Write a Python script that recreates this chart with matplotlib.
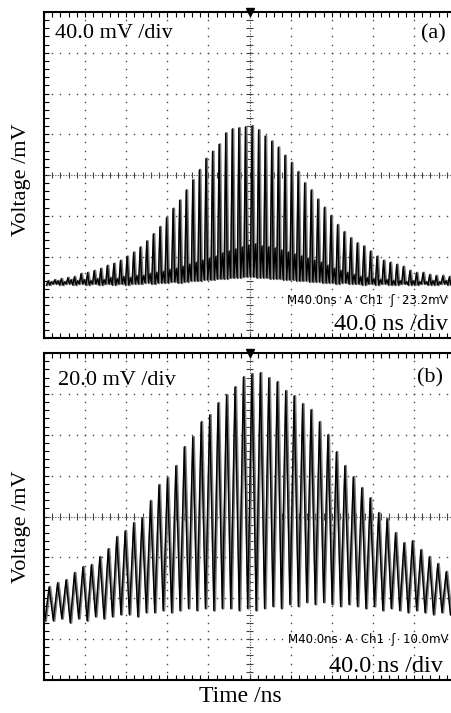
import matplotlib

matplotlib.use("Agg")

import matplotlib.pyplot as plt
import numpy as np

W, H = 451, 713

# panel (a): 40 mV/div, peak heights of each pulse (mV)
a_tall_mv = [
    -104, -103, -102, -101, -100, -97, -96, -94, -92, -89,
    -87, -84, -80, -76, -71, -65, -58, -51, -42, -33,
    -25, -15, -5, 5, 16, 23, 30, 41, 45, 46,
    47, 48, 44, 38, 33, 27, 19, 12, 3, -8,
    -15, -24, -32, -40, -49, -56, -62, -67, -70, -75,
    -80, -84, -86, -88, -90, -94, -96, -96, -98, -99,
    -99, -100,
]
a_small_mv = [
    -105, -104, -105, -103, -104, -103, -104, -102, -103, -101,
    -102, -100, -101, -99, -99, -97, -96, -95, -93, -92,
    -90, -88, -86, -84, -82, -80, -77, -75, -73, -71,
    -69, -68, -70, -71, -72, -74, -76, -78, -80, -82,
    -84, -86, -89, -92, -94, -96, -98, -100, -101, -102,
    -103, -103, -104, -104, -105, -104, -105, -105, -104, -105,
    -104, -105,
]
a_valley_mv = [
    -108, -107, -108, -107, -108, -107, -108, -107, -108, -107,
    -108, -107, -108, -107, -107, -106, -107, -106, -106, -105,
    -106, -105, -104, -104, -103, -103, -102, -102, -101, -101,
    -100, -100, -101, -101, -102, -102, -103, -103, -104, -104,
    -105, -105, -106, -106, -107, -106, -107, -107, -108, -107,
    -108, -107, -108, -108, -107, -108, -108, -107, -108, -108,
    -107, -108,
]
a_first_ns = -196.0
a_period_ns = 6.4

# panel (b): 20 mV/div
b_peak_mv = [
    -34.5, -32.5, -31.1, -27.6, -24.7, -23.7, -19.8, -15.9, -10.0, -7.1,
    -3.2, -0.7, 7.6, 15.4, 18.8, 24.7, 34.0, 38.9, 46.2, 49.6,
    55.5, 59.4, 63.3, 68.2, 69.7, 70.2, 67.7, 65.8, 61.4, 58.9,
    55.0, 52.1, 46.2, 39.9, 31.5, 24.7, 19.3, 13.9, 9.0, 1.7,
    -1.2, -8.1, -13.0, -12.0, -16.4, -19.8, -23.2, -27.1,
]
b_valley_mv = [
    -51, -50, -52, -50, -51, -49, -50, -49, -48, -48, -49, -47,
    -47, -46, -47, -46, -45, -46, -45, -46, -45, -45, -46, -45,
    -46, -45, -44, -45, -43, -44, -42, -43, -42, -43, -44, -43,
    -44, -45, -44, -46, -45, -46, -47, -46, -47, -48, -47, -48,
]
b_first_ns = -195.0
b_period_ns = 8.22

SERIF = "Liberation Serif"


def fx(px):
    return px / W


def fy(py):
    return 1 - py / H


def trace_a():
    t, v = [], []
    p = a_period_ns
    for k, tall in enumerate(a_tall_mv):
        tk = a_first_ns + k * p
        t += [tk - 0.25 * p, tk, tk + 0.25 * p, tk + 0.5 * p]
        v += [a_valley_mv[k], tall, a_valley_mv[k], a_small_mv[k]]
    t.append(t[-1] + 0.25 * p)
    v.append(a_valley_mv[-1])
    return np.array(t), np.array(v)


def trace_b():
    p = b_period_ns
    t = [b_first_ns - 0.5 * p]
    v = [b_valley_mv[0]]
    for k, peak in enumerate(b_peak_mv):
        tk = b_first_ns + k * p
        t += [tk, tk + 0.5 * p]
        v += [peak, b_valley_mv[k]]
    return np.array(t), np.array(v)


def scope_axes(fig, rect, vdiv):
    ax = fig.add_axes(rect)
    ymax = 4 * vdiv
    ax.set_xlim(-200, 196)
    ax.set_ylim(-ymax, ymax)

    sub_x = np.arange(-200, 197, 8)
    sub_y = np.linspace(-ymax, ymax, 41)
    dot = dict(ls="none", marker="s", ms=1.0, mew=0, color="#444444")
    for xl in range(-160, 161, 40):
        if xl != 0:
            ax.plot(np.full(len(sub_y), xl), sub_y, **dot)
    for yl in np.arange(-3, 4) * vdiv:
        if yl != 0:
            ax.plot(sub_x, np.full(len(sub_x), yl), **dot)

    # centre cross-hair with sub-division ticks
    ax.axhline(0, color="#666666", lw=0.8, ls=(0, (1.2, 1.2)))
    ax.axvline(0, color="#666666", lw=0.8, ls=(0, (1.2, 1.2)))
    ax.vlines(sub_x, -0.08 * vdiv, 0.08 * vdiv, color="#444444", lw=0.8)
    ax.hlines(sub_y, -3.2, 3.2, color="#444444", lw=0.8)

    ax.set_xticks(sub_x)
    ax.set_yticks(sub_y)
    ax.tick_params(which="both", direction="in", length=3.5, width=0.8,
                   top=True, right=False, labelbottom=False, labelleft=False)
    for side in ("left", "top", "bottom"):
        ax.spines[side].set_linewidth(1.5)
    ax.spines["right"].set_visible(False)

    # trigger position marker
    ax.plot([0], [ymax], marker="v", ms=6, color="black", clip_on=False, zorder=6)
    return ax


def draw_trace(ax, t, v):
    ax.plot(t + 0.8, v, color="#7a7a7a", lw=1.9, zorder=3)
    ax.plot(t, v, color="black", lw=1.0, zorder=4)


fig = plt.figure(figsize=(W / 100, H / 100), dpi=100)

ax_a = scope_axes(fig, [fx(44), fy(338), fx(407), 326 / H], 40)
ta, va = trace_a()
draw_trace(ax_a, ta, va)

ax_b = scope_axes(fig, [fx(44), fy(680), fx(407), 327 / H], 20)
tb, vb = trace_b()
draw_trace(ax_b, tb, vb)

# screen annotations
fig.text(fx(55), fy(38), "40.0 mV /div", family=SERIF, fontsize=16, va="baseline")
fig.text(fx(446), fy(38), "(a)", family=SERIF, fontsize=16, ha="right", va="baseline")
fig.text(fx(448), fy(304), "M40.0ns  A  Ch1  \u0283  23.2mV", fontsize=8.5,
         ha="right", va="baseline")
fig.text(fx(448), fy(330), "40.0 ns /div", family=SERIF, fontsize=17.5,
         ha="right", va="baseline")

fig.text(fx(58), fy(385), "20.0 mV /div", family=SERIF, fontsize=16, va="baseline")
fig.text(fx(443), fy(382), "(b)", family=SERIF, fontsize=16, ha="right", va="baseline")
fig.text(fx(448), fy(643), "M40.0ns  A  Ch1  \u0283  10.0mV", fontsize=8.5,
         ha="right", va="baseline")
fig.text(fx(443), fy(672), "40.0 ns /div", family=SERIF, fontsize=17.5,
         ha="right", va="baseline")

# axis titles
fig.text(fx(22), fy(180), "Voltage /mV", family=SERIF, fontsize=16,
         rotation=90, ha="center", va="center")
fig.text(fx(22), fy(527), "Voltage /mV", family=SERIF, fontsize=16,
         rotation=90, ha="center", va="center")
fig.text(fx(240), fy(702), "Time /ns", family=SERIF, fontsize=17,
         ha="center", va="baseline")

fig.savefig("out.png", dpi=100)
plt.close(fig)
